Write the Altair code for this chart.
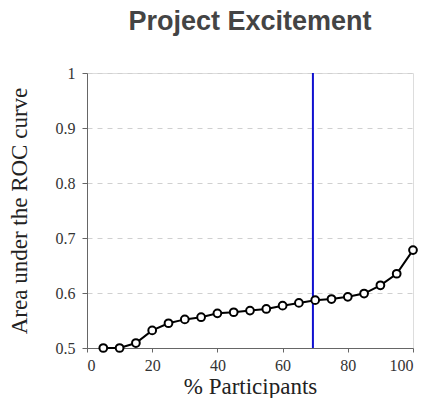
import altair as alt
import pandas as pd

participants = [5, 10, 15, 20, 25, 30, 35, 40, 45, 50, 55, 60, 65, 70, 75, 80, 85, 90, 95, 100]
auc = [0.500, 0.500, 0.509, 0.532, 0.545, 0.552, 0.556, 0.563, 0.565, 0.568, 0.571,
       0.577, 0.582, 0.587, 0.589, 0.593, 0.599, 0.614, 0.635, 0.678]
threshold = [69.3]

df = pd.DataFrame({"p": participants, "auc": auc})
vdf = pd.DataFrame({"x": threshold})

serif = "Liberation Serif"

xscale = alt.Scale(domain=[0, 100], nice=False)
yscale = alt.Scale(domain=[0.5, 1.0], nice=False)

base = alt.Chart(df)

line = base.mark_line(color="black", strokeWidth=2).encode(
    x=alt.X("p:Q", scale=xscale,
            axis=alt.Axis(title="% Participants", values=[0, 20, 40, 60, 80, 100],
                          grid=False, titleFont=serif, titleFontSize=23,
                          titleFontWeight="normal", titleColor="#222",
                          labelFont=serif, labelFontSize=16, labelColor="#333",
                          domainColor="#666", tickColor="#666", tickSize=4,
                          labelPadding=5, titlePadding=2)),
    y=alt.Y("auc:Q", scale=yscale,
            axis=alt.Axis(title="Area under the ROC curve",
                          values=[0.5, 0.6, 0.7, 0.8, 0.9, 1.0],
                          labelExpr="datum.value == 1 ? '1' : format(datum.value, '.1f')",
                          grid=True, gridDash=[5, 5], gridColor="#d0d0d0",
                          titleFont=serif, titleFontSize=23, titleFontWeight="normal",
                          titleColor="#222",
                          labelFont=serif, labelFontSize=16, labelColor="#333",
                          domainColor="#666", tickColor="#666", tickSize=5,
                          labelPadding=7, titlePadding=24)),
)

points = base.mark_point(shape="circle", filled=True, fill="white", stroke="black",
                         strokeWidth=2, size=60, opacity=1).encode(
    x=alt.X("p:Q", scale=xscale),
    y=alt.Y("auc:Q", scale=yscale),
)

vline = alt.Chart(vdf).mark_rule(color="#1010d0", strokeWidth=2).encode(
    x=alt.X("x:Q", scale=xscale)
)

chart = alt.layer(vline, line, points).properties(
    width=326, height=275,
    title=alt.TitleParams("Project Excitement", font="Liberation Sans", fontSize=27,
                          fontWeight="bold", color="#444", anchor="middle",
                          baseline="alphabetic", offset=8),
    autosize=alt.AutoSizeParams(type="none"),
    padding={"left": 79, "top": 65, "right": 14, "bottom": 50},
).configure_view(stroke="#666", strokeWidth=1.2).configure(background="white")

chart.save("out.html", embed_options={"renderer": "svg", "actions": False})
